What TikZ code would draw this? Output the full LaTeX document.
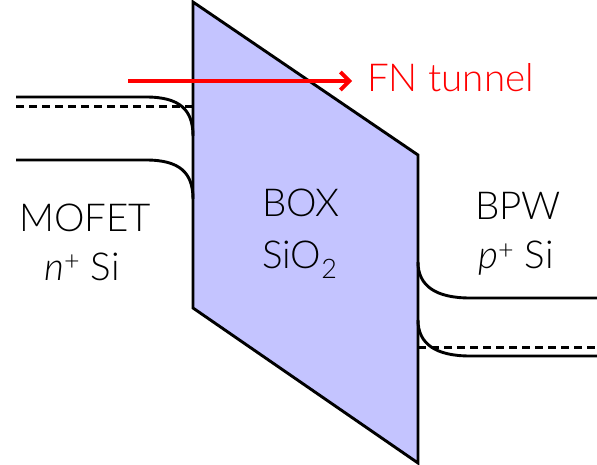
\documentclass[tikz,border=0pt]{standalone}
\usepackage{fontspec}
\setmainfont{Lato}[UprightFont={* Light},ItalicFont={* Light Italic}]
\usetikzlibrary{arrows.meta}
\definecolor{boxfill}{RGB}{196,196,255}
\definecolor{fnred}{RGB}{255,0,0}
\begin{document}
\begin{tikzpicture}[x=1pt,y=-1pt,
  band/.style={line width=2.9pt},
  fermi/.style={line width=3pt,dash pattern=on 8pt off 5pt},
  lbl/.style={inner sep=0pt,anchor=base,font=\fontsize{38.5}{42}\selectfont},
  redlbl/.style={lbl,text=fnred,anchor=base west}]
\useasboundingbox (0,0) rectangle (597,465);
% oxide
\draw[line width=2.9pt,fill=boxfill,line join=miter]
  (193,2) coordinate (b1) -- (418,155) coordinate (b2) -- (418,463) coordinate (b3) -- (193,308) coordinate (b4) -- cycle;
% left bands
\draw[band] (16,97) -- (146,97) .. controls (180,97) and (193,110) .. (193,136);
\draw[fermi] (16,107) -- (193,107);
\draw[band] (16,160) -- (146,160) .. controls (180,160) and (193,173) .. (193,199);
% right bands
\draw[band] (418,262) .. controls (418,286) and (436,298) .. (470,298) -- (597,298);
\draw[fermi] (418,347) -- (597,347);
\draw[band] (418,320) .. controls (418,344) and (436,356) .. (470,356) -- (597,356);
% labels
\node[lbl] (mofet) at (85,232) {MOFET};
\node[lbl] (nsi) at (82,280) {\textit{n}\textsuperscript{+} Si};
\node[lbl] (box) at (301,217) {BOX};
\node[lbl] (sio) at (300,268) {SiO\textsubscript{2}};
\node[lbl] (bpw) at (518,220) {BPW};
\node[lbl] (psi) at (516,269) {\textit{p}\textsuperscript{+} Si};
\node[redlbl] (fn) at (367,92) {FN tunnel};
\coordinate (fnstart) at (128,81);
\draw[fnred,line width=3.8pt,-{Straight Barb[length=9pt,width=18pt,line width=3.8pt]}]
  (fnstart) -- (fnstart -| fn.west) [shorten >=15pt];
\end{tikzpicture}
\end{document}
